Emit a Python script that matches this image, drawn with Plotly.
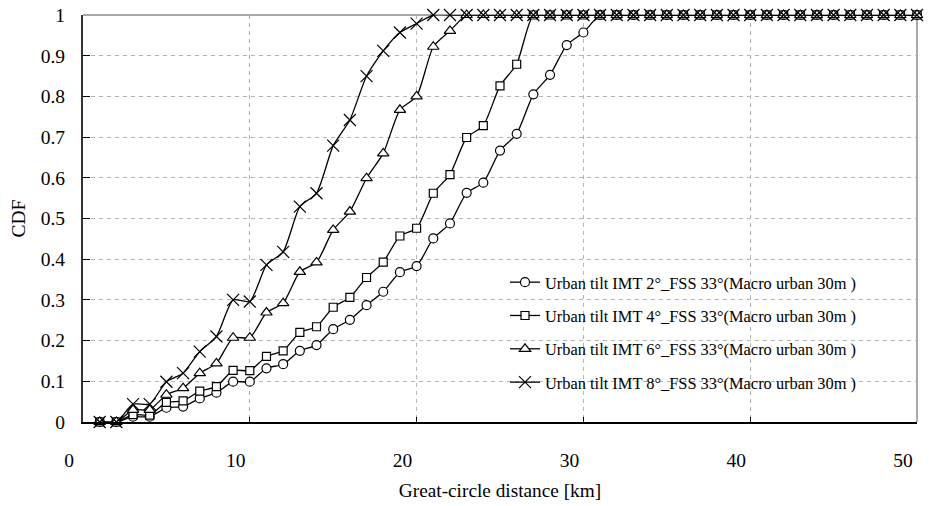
import plotly.graph_objects as go

# Great-circle distance [km]
distance_km = [1, 2, 3, 4, 5, 6, 7, 8, 9, 10,
               11, 12, 13, 14, 15, 16, 17, 18, 19, 20,
               21, 22, 23, 24, 25, 26, 27, 28, 29, 30,
               31, 32, 33, 34, 35, 36, 37, 38, 39, 40,
               41, 42, 43, 44, 45, 46, 47, 48, 49, 50]

cdf_tilt2 = [0, 0, 0.013, 0.013, 0.035, 0.038, 0.058, 0.072, 0.099, 0.099,
             0.132, 0.142, 0.175, 0.189, 0.228, 0.251, 0.287, 0.320, 0.368, 0.383,
             0.451, 0.488, 0.563, 0.588, 0.667, 0.708, 0.805, 0.853, 0.926, 0.957,
             1, 1, 1, 1, 1, 1, 1, 1, 1, 1,
             1, 1, 1, 1, 1, 1, 1, 1, 1, 1]

cdf_tilt4 = [0, 0, 0.018, 0.017, 0.048, 0.052, 0.076, 0.087, 0.127, 0.126,
             0.161, 0.175, 0.220, 0.234, 0.282, 0.306, 0.355, 0.393, 0.457, 0.476,
             0.562, 0.608, 0.699, 0.728, 0.826, 0.879, 1, 1, 1, 1,
             1, 1, 1, 1, 1, 1, 1, 1, 1, 1,
             1, 1, 1, 1, 1, 1, 1, 1, 1, 1]

cdf_tilt6 = [0, 0, 0.030, 0.030, 0.067, 0.083, 0.120, 0.144, 0.207, 0.207,
             0.269, 0.292, 0.369, 0.392, 0.472, 0.517, 0.599, 0.660, 0.767, 0.800,
             0.922, 0.961, 1, 1, 1, 1, 1, 1, 1, 1,
             1, 1, 1, 1, 1, 1, 1, 1, 1, 1,
             1, 1, 1, 1, 1, 1, 1, 1, 1, 1]

cdf_tilt8 = [0, 0, 0.044, 0.044, 0.099, 0.120, 0.173, 0.210, 0.300, 0.296,
             0.386, 0.418, 0.529, 0.562, 0.679, 0.742, 0.850, 0.912, 0.957, 0.979,
             1, 1, 1, 1, 1, 1, 1, 1, 1, 1,
             1, 1, 1, 1, 1, 1, 1, 1, 1, 1,
             1, 1, 1, 1, 1, 1, 1, 1, 1, 1]

series_names = [
    "Urban tilt IMT 2°_FSS 33°(Macro urban 30m )",
    "Urban tilt IMT 4°_FSS 33°(Macro urban 30m )",
    "Urban tilt IMT 6°_FSS 33°(Macro urban 30m )",
    "Urban tilt IMT 8°_FSS 33°(Macro urban 30m )",
]
series_values = [cdf_tilt2, cdf_tilt4, cdf_tilt6, cdf_tilt8]

x_ticks = [0, 10, 20, 30, 40, 50]
y_ticks = [0, 0.1, 0.2, 0.3, 0.4, 0.5, 0.6, 0.7, 0.8, 0.9, 1]
y_tick_text = ["0", "0.1", "0.2", "0.3", "0.4", "0.5", "0.6", "0.7", "0.8", "0.9", "1"]

symbols = ["circle", "square", "triangle-up", "x-thin"]
sizes = [9, 8, 10, 12]

FONT = "Liberation Serif"

fig = go.Figure()
for i, (name, vals) in enumerate(zip(series_names, series_values)):
    is_x = symbols[i] == "x-thin"
    fig.add_trace(go.Scatter(
        x=distance_km, y=vals, name=name, mode="lines+markers",
        legendgroup=f"g{i}",
        line=dict(color="black", width=1.3, shape="spline", smoothing=0.6),
        marker=dict(symbol=symbols[i], size=sizes[i],
                    color="black" if is_x else "white",
                    line=dict(color="black", width=1.2)),
        cliponaxis=False,
    ))

fig.update_layout(
    width=929, height=506,
    margin=dict(l=83.3, r=12.3, t=15, b=84, autoexpand=False),
    paper_bgcolor="white", plot_bgcolor="white",
    font=dict(family=FONT, color="black", size=19.5),
    showlegend=True,
    legend=dict(
        x=(505 - 83.3) / 833.4, y=(422 - 265) / 407,
        xanchor="left", yanchor="top",
        bgcolor="rgba(0,0,0,0)", borderwidth=0,
        font=dict(family=FONT, size=16.4, color="black"),
        tracegroupgap=9,
    ),
    shapes=[
        dict(type="rect", xref="paper", yref="paper", layer="between",
             x0=(478 - 83.3) / 833.4, x1=(878 - 83.3) / 833.4,
             y0=(422 - 400) / 407, y1=(422 - 263) / 407,
             fillcolor="white", line=dict(width=0)),
        dict(type="line", xref="paper", yref="paper", layer="between",
             x0=0, x1=1, y0=1, y1=1, line=dict(color="#8c8c8c", width=1.5)),
        dict(type="line", xref="paper", yref="paper", layer="between",
             x0=1, x1=1, y0=0, y1=1, line=dict(color="#8c8c8c", width=1.5)),
    ],
)

fig.update_xaxes(
    range=[0, 50], tickvals=x_ticks, ticktext=[str(v) for v in x_ticks],
    showline=True, linecolor="black", linewidth=1.5,
    ticks="inside", ticklen=5, tickcolor="black", tickwidth=1,
    showgrid=True, gridcolor="#b4b4b4", griddash="4px,4px", gridwidth=1,
    zeroline=False, automargin=False,
    ticklabelstandoff=20, ticklabelshift=-14,
    tickfont=dict(family=FONT, size=19.5, color="black"),
    title=dict(text="Great-circle distance [km]", standoff=13,
               font=dict(family=FONT, size=19.3, color="black")),
)
fig.update_yaxes(
    range=[0, 1], tickvals=y_ticks, ticktext=y_tick_text,
    showline=True, linecolor="#333333", linewidth=2,
    ticks="inside", ticklen=7, tickcolor="black", tickwidth=1.2,
    showgrid=True, gridcolor="#b4b4b4", griddash="4px,4px", gridwidth=1,
    zeroline=False, automargin=False,
    ticklabelstandoff=12,
    tickfont=dict(family=FONT, size=19.5, color="black"),
    title=dict(text="CDF", standoff=10,
               font=dict(family=FONT, size=19.5, color="black")),
)

fig.write_html("out.html")
